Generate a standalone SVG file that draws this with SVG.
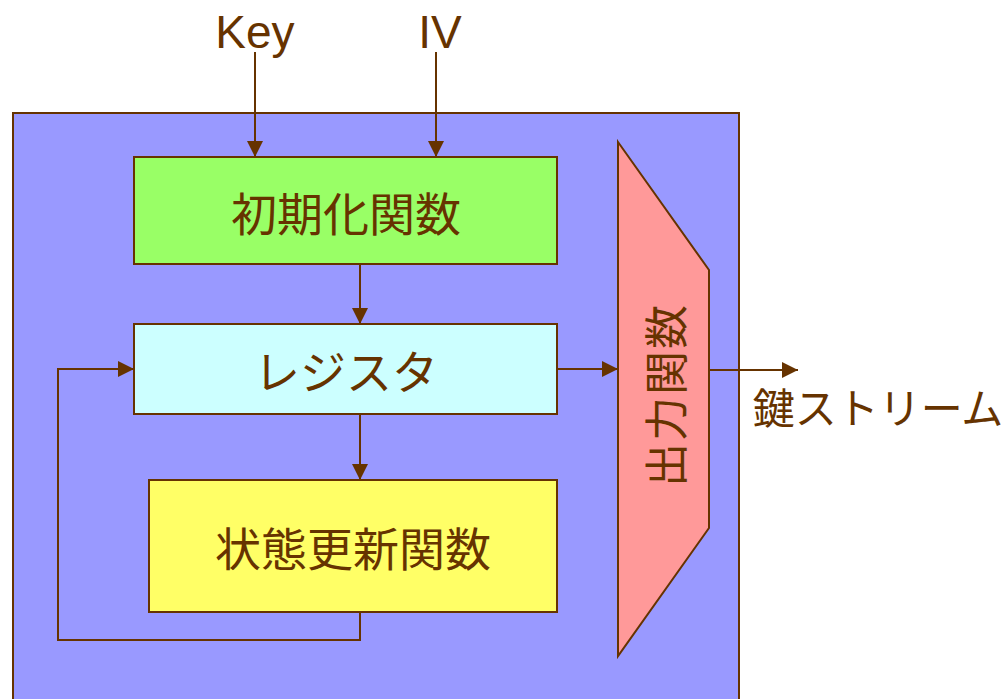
<svg xmlns="http://www.w3.org/2000/svg" width="1006" height="699" viewBox="0 0 1006 699">
<style>
.box{stroke:#663300;stroke-width:2}
.lbl{font-family:"Liberation Sans","Noto Sans CJK JP",sans-serif;fill:#663300;text-anchor:middle}
.jp{font-family:"Noto Sans CJK JP","Liberation Sans",sans-serif;fill:#663300;text-anchor:middle}
.ln{fill:none;stroke:#663300;stroke-width:2}
</style>
<defs>
<marker id="ah" markerUnits="userSpaceOnUse" markerWidth="16" markerHeight="16" viewBox="0 0 16 16" refX="16" refY="8" orient="auto">
<path d="M0,0 L16,8 L0,16 Z" fill="#663300"/>
</marker>
</defs>
<rect width="1006" height="699" fill="#ffffff"/>
<g id="outer"><rect class="box" x="13" y="113" width="726" height="600" fill="#9999FF"/></g>
<g id="key"><text class="lbl" x="255" y="48" font-size="46">Key</text></g>
<g id="iv"><text class="lbl" x="440" y="48" font-size="46">IV</text></g>
<g id="init"><rect class="box" x="134" y="157" width="423" height="107" fill="#99FF66"/><text class="jp" x="346" y="231" font-size="46">初期化関数</text></g>
<g id="register"><rect class="box" x="134" y="324" width="423" height="90" fill="#CCFFFF"/><text class="jp" x="346" y="389" font-size="46">レジスタ</text></g>
<g id="update"><rect class="box" x="149" y="480" width="408" height="132" fill="#FFFF66"/><text class="jp" x="353" y="566" font-size="46">状態更新関数</text></g>
<g id="output"><polygon class="box" points="618,142 709,270 709,528 618,656" fill="#FF9999"/><text class="jp" transform="translate(666,395) rotate(-90)" x="0" y="17" font-size="44" letter-spacing="2">出力関数</text></g>
<g id="stream"><text class="jp" x="878" y="424" font-size="42">鍵ストリーム</text></g>
<g id="connectors">
<line class="ln" x1="255" y1="52" x2="255" y2="157" marker-end="url(#ah)"/>
<line class="ln" x1="436" y1="52" x2="436" y2="157" marker-end="url(#ah)"/>
<line class="ln" x1="360" y1="264" x2="360" y2="324" marker-end="url(#ah)"/>
<line class="ln" x1="360" y1="414" x2="360" y2="480" marker-end="url(#ah)"/>
<line class="ln" x1="557" y1="369" x2="618" y2="369" marker-end="url(#ah)"/>
<line class="ln" x1="709" y1="370" x2="798" y2="370" marker-end="url(#ah)"/>
<polyline class="ln" points="360,612 360,640 58,640 58,369 134,369" marker-end="url(#ah)"/>
</g>
</svg>
